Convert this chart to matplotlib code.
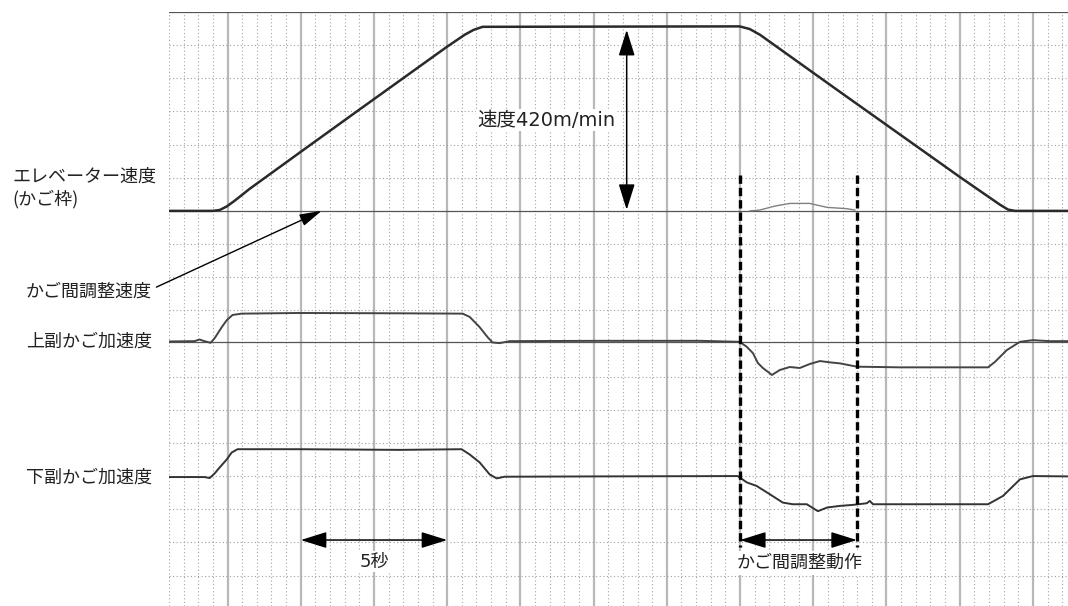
import numpy as np
import matplotlib
matplotlib.use('Agg')
import matplotlib.pyplot as plt

plt.rcParams['font.family'] = ['Noto Sans CJK JP', 'DejaVu Sans']

# time axis in seconds, grid: 0.5 s minor, 2.5 s major
# elevator speed (car frame), m/min
t_speed = [-2.02, -0.51, -0.27, -0.03, 0.24, 0.75, 2.49, 4.51, 7.48, 8.10, 8.40, 8.71,
           17.49, 17.83, 18.18, 20.91, 25.01, 26.03, 26.38, 26.65, 26.89, 28.70]
v_speed = [0, 0, 2, 10, 23, 50, 134, 231, 373, 401, 412, 419,
           420, 414, 401, 271, 77, 30, 14, 3, 0, 0]

# inter-car adjustment speed, m/min
t_adj = [17.83, 18.18, 18.69, 19.20, 19.88, 20.47, 21.15, 21.42]
v_adj = [0, 2, 11, 17, 17, 8, 5, 2]

# upper sub-car acceleration (grid divisions above baseline)
t_up = [-2.02, -1.13, -0.96, -0.79, -0.58, -0.44, -0.20, -0.03, 0.17, 0.48, 2.46, 5.88,
        8.03, 8.27, 8.61, 8.88, 9.05, 9.29, 9.63, 12.71, 16.13, 17.49, 17.73, 17.94,
        18.11, 18.28, 18.59, 18.86, 19.20, 19.54, 19.88, 20.23, 20.57, 20.91, 21.49,
        22.96, 25.97, 26.20, 26.61, 27.06, 27.50, 28.08, 28.70]
a_up = [0.01, 0.02, 0.07, 0.02, -0.03, 0.11, 0.44, 0.65, 0.81, 0.85, 0.87, 0.86,
        0.85, 0.75, 0.44, 0.14, -0.02, -0.04, 0.02, 0.03, 0.03, 0.0, -0.15, -0.34,
        -0.64, -0.79, -1.00, -0.85, -0.76, -0.79, -0.67, -0.58, -0.62, -0.65, -0.75,
        -0.77, -0.77, -0.61, -0.25, 0.0, 0.05, 0.02, 0.02]

# lower sub-car acceleration (grid divisions above baseline)
t_low = [-2.02, -0.79, -0.61, -0.44, -0.27, -0.03, 0.14, 0.34, 2.46, 5.88, 7.99, 8.27,
         8.61, 8.95, 9.19, 9.46, 12.71, 17.42, 17.73, 18.07, 18.52, 18.96, 19.30,
         19.78, 20.16, 20.47, 20.91, 21.35, 21.83, 21.93, 22.04, 22.96, 25.97, 26.48,
         27.06, 27.50, 28.70]
a_low = [-0.03, -0.03, -0.06, 0.08, 0.26, 0.50, 0.71, 0.81, 0.81, 0.79, 0.81, 0.65,
         0.41, 0.05, -0.07, -0.02, -0.01, 0.0, -0.19, -0.30, -0.55, -0.80, -0.85,
         -0.85, -1.06, -0.95, -0.90, -0.87, -0.82, -0.75, -0.85, -0.85, -0.85, -0.60,
         -0.10, 0.0, -0.01]

labels = ['エレベーター速度\n(かご枠)', 'かご間調整速度', '上副かご加速度', '下副かご加速度']

# layout
speed_base, up_base, low_base = 6.0, 9.95, 14.0
speed_full = 5.566          # divisions for 420 m/min
adj_start, adj_end = 17.5, 21.49
latin = ['DejaVu Sans', 'Noto Sans CJK JP']

fig = plt.figure(figsize=(10.68, 6.06), dpi=100)
ax = fig.add_axes([169/1068, 0, 1 - 169/1068, 594/606])
ax.set_xlim(-2.0, 28.70)
ax.set_ylim(17.92, 0)

ax.set_xticks(np.arange(0, 28.7, 2.5))
ax.set_xticks(np.arange(-2.0, 28.7, 0.5), minor=True)
ax.set_yticks([k for k in range(1, 18) if k not in (6, 10)])
ax.grid(which='minor', axis='x', color='#a6a6a6', lw=0.8, ls=(0, (1, 2.2)))
ax.grid(which='major', axis='x', color='#b8b8b8', lw=1.6, ls='-')
ax.grid(which='major', axis='y', color='#a0a0a0', lw=0.8, ls=(0, (1, 2.2)))
ax.tick_params(which='both', length=0, labelbottom=False, labelleft=False)
for s in ax.spines.values():
    s.set_visible(False)
ax.set_axisbelow(True)

for yb in (0, speed_base, up_base):
    ax.axhline(yb, color='#555555', lw=0.9, zorder=1)

sp = np.array(v_speed) / 420 * speed_full
ax.plot(t_speed, speed_base - sp, color='#2a2a2a', lw=1.8, zorder=3)
ad = np.array(v_adj) / 420 * speed_full
ax.plot(t_adj, speed_base - ad, color='#808080', lw=1.0, zorder=3)
ax.plot(t_up, up_base - np.array(a_up), color='#444444', lw=1.4, zorder=3)
ax.plot(t_low, low_base - np.array(a_low), color='#333333', lw=1.4, zorder=3)

# dashed markers for the adjustment period
for xd in (adj_start, adj_end):
    ax.plot([xd, xd], [4.92, 16.15], color='black', lw=2.4, ls=(0, (2.5, 1.2)), zorder=4)

arrow = dict(arrowstyle='<|-|>,head_length=0.8,head_width=0.25', color='black',
             lw=1.1, mutation_scale=20, shrinkA=0, shrinkB=0)
ax.annotate('', xy=(13.63, 0.54), xytext=(13.63, 5.97), arrowprops=arrow)
ax.text(10.90, 3.26, '速度420m/min', fontsize=14, ha='center', va='center', color='#222222',
        family=latin, bbox=dict(facecolor='white', edgecolor='none', pad=1), zorder=5)

ax.annotate('', xy=(2.5, 15.93), xytext=(7.5, 15.93), arrowprops=arrow)
ax.text(5.0, 16.59, '5秒', fontsize=13, ha='center', va='center', color='#222222',
        family=latin, bbox=dict(facecolor='white', edgecolor='none', pad=1), zorder=5)

ax.annotate('', xy=(adj_start, 15.93), xytext=(adj_end, 15.93), arrowprops=arrow)
ax.text(19.54, 16.62, 'かご間調整動作', fontsize=13, ha='center', va='center', color='#222222',
        bbox=dict(facecolor='white', edgecolor='none', pad=2), zorder=5)

# leader line from the label to the speed baseline
ax.annotate('', xy=(3.21, 6.0), xytext=(-2.43, 8.30), annotation_clip=False,
            arrowprops=dict(arrowstyle='-|>,head_length=0.9,head_width=0.25', color='black',
                            lw=1.0, mutation_scale=15, shrinkA=0, shrinkB=0))

# left side labels
fig.text(12/1068, 1 - 188/606, labels[0], fontsize=13, ha='left', va='center',
         color='#222222', linespacing=1.25)
for lab, yp in zip(labels[1:], (292, 342, 478)):
    fig.text(152/1068, 1 - yp/606, lab, fontsize=13, ha='right', va='center', color='#222222')

fig.savefig('out.png', dpi=100)
